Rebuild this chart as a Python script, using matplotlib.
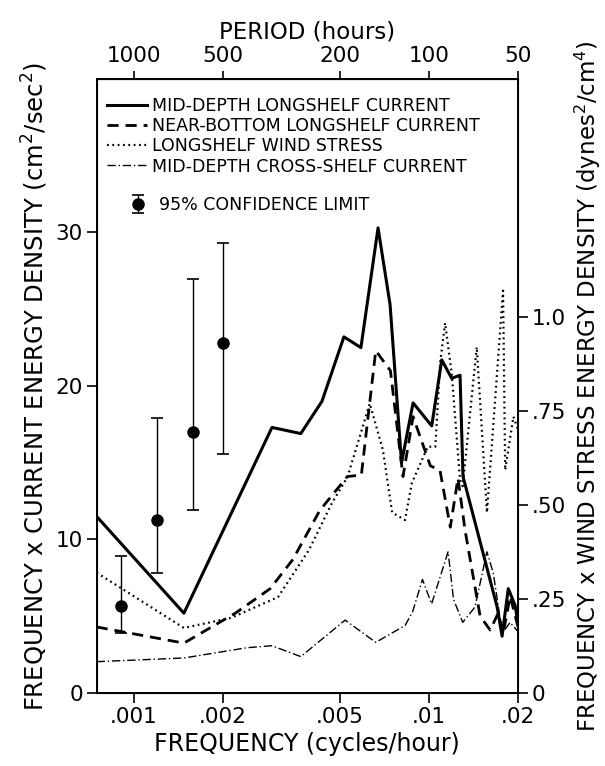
import matplotlib
matplotlib.use("Agg")
import matplotlib.pyplot as plt
from matplotlib.ticker import NullLocator, FixedLocator, FixedFormatter

# frequency (cycles/hour) and frequency x energy density for each record
F_MID = [0.00075, 0.00148, 0.00294, 0.00368, 0.00434, 0.00515, 0.00588, 0.00672,
         0.00738, 0.00807, 0.00883, 0.01021, 0.01104, 0.01193, 0.01273, 0.01303,
         0.01524, 0.0170, 0.01767, 0.01854, 0.01956, 0.0200]
E_MID = [11.5, 5.2, 17.3, 16.9, 19.0, 23.2, 22.5, 30.3,
         25.3, 15.0, 18.9, 17.4, 21.7, 20.5, 20.7, 14.1,
         9.1, 5.6, 3.7, 6.8, 5.7, 4.5]

F_BOT = [0.00075, 0.00148, 0.00221, 0.0029, 0.00346, 0.00427, 0.00529, 0.0059, 0.0066,
         0.0074, 0.00816, 0.00883, 0.0101, 0.01089, 0.0118, 0.01253, 0.01324,
         0.01489, 0.0161, 0.01714, 0.01782, 0.01882, 0.0200]
E_BOT = [4.3, 3.25, 5.2, 6.8, 8.7, 11.9, 14.1, 14.2, 22.3,
         21.0, 14.1, 18.0, 14.8, 14.5, 10.8, 14.0, 10.6,
         5.0, 4.1, 5.2, 3.9, 6.3, 4.3]

F_WIND = [0.00075, 0.00148, 0.00214, 0.00308, 0.00392, 0.00469, 0.0053, 0.0063,
          0.00698, 0.0075, 0.00829, 0.00874, 0.0099, 0.0105, 0.0109, 0.01133,
          0.01193, 0.01273, 0.0130, 0.0145, 0.0157, 0.0178, 0.0181, 0.0193, 0.0200]
E_WIND = [0.32, 0.173, 0.20, 0.255, 0.38, 0.505, 0.575, 0.77,
          0.646, 0.48, 0.46, 0.558, 0.655, 0.655, 0.877, 0.984,
          0.85, 0.567, 0.55, 0.92, 0.48, 1.07, 0.593, 0.735, 0.70]

F_CROSS = [0.00075, 0.00148, 0.00242, 0.00294, 0.00368, 0.0052, 0.0066, 0.0083,
           0.0088, 0.0095, 0.0102, 0.0116, 0.0121, 0.0130, 0.0143, 0.0157,
           0.0165, 0.0177, 0.0188, 0.0200]
E_CROSS = [2.04, 2.28, 2.95, 3.08, 2.37, 4.75, 3.3, 4.4,
           5.3, 7.4, 5.8, 9.2, 6.1, 4.6, 5.6, 9.2,
           7.8, 3.9, 4.6, 4.0]

# 95% confidence limits drawn at low frequency
F_CI = [0.00091, 0.0012, 0.00159, 0.0020]
E_CI = [5.7, 11.3, 17.0, 22.8]
CI_LO = [3.9, 7.8, 11.9, 15.6]
CI_HI = [8.9, 17.9, 27.0, 29.3]

PERIODS = [1000, 500, 200, 100, 50]
FREQ_TICKS = [0.001, 0.002, 0.005, 0.01, 0.02]
FREQ_LABELS = [".001", ".002", ".005", ".01", ".02"]
RIGHT_TICKS = [0, 0.25, 0.5, 0.75, 1.0]
RIGHT_LABELS = ["0", ".25", ".50", ".75", "1.0"]

plt.rcParams["font.family"] = "DejaVu Sans"
fig = plt.figure(figsize=(6.05, 7.66), dpi=100)
ax = fig.add_axes([0.1598, 0.0953, 0.6964, 0.8016])
ax2 = ax.twinx()

l1, = ax.plot(F_MID, E_MID, color="black", lw=2.2, ls="-")
l2, = ax.plot(F_BOT, E_BOT, color="black", lw=2.0, ls=(0, (4, 2.5)))
l4, = ax.plot(F_CROSS, E_CROSS, color="black", lw=1.0, ls=(0, (6, 2, 1, 2)))
l3, = ax2.plot(F_WIND, E_WIND, color="black", lw=1.6, ls=(0, (0.8, 1.6)))

yerr = [[e - lo for e, lo in zip(E_CI, CI_LO)], [hi - e for e, hi in zip(E_CI, CI_HI)]]
eb = ax.errorbar(F_CI, E_CI, yerr=yerr, fmt="o", color="black", ms=8,
                 elinewidth=1.0, capsize=4, capthick=1.2)

ax.set_xscale("log")
ax.set_xlim(0.00075, 0.02)
ax.set_ylim(0, 40)
ax2.set_ylim(0, 1.633)

ax.xaxis.set_major_locator(FixedLocator(FREQ_TICKS))
ax.xaxis.set_major_formatter(FixedFormatter(FREQ_LABELS))
ax.xaxis.set_minor_locator(NullLocator())
ax.set_yticks([0, 10, 20, 30])
ax2.set_yticks(RIGHT_TICKS)
ax2.set_yticklabels(RIGHT_LABELS)

top = ax.secondary_xaxis("top", functions=(lambda f: 1.0 / f, lambda p: 1.0 / p))
top.xaxis.set_major_locator(FixedLocator(PERIODS))
top.xaxis.set_major_formatter(FixedFormatter([str(p) for p in PERIODS]))
top.xaxis.set_minor_locator(NullLocator())
top.tick_params(direction="out", length=6, width=1.2, labelsize=15.5, pad=3)
top.set_xlabel("PERIOD (hours)", fontsize=16.5, labelpad=6)

for a in (ax, ax2):
    a.tick_params(direction="out", length=7, width=1.2, labelsize=15.5, pad=3)
for s in ax.spines.values():
    s.set_linewidth(1.4)

ax.set_xlabel("FREQUENCY (cycles/hour)", fontsize=17, labelpad=4)
ax.set_ylabel("FREQUENCY x CURRENT ENERGY DENSITY (cm$^2$/sec$^2$)",
              fontsize=17.5, labelpad=4)
ax2.set_ylabel("FREQUENCY x WIND STRESS ENERGY DENSITY (dynes$^2$/cm$^4$)",
               fontsize=16.5, labelpad=5)

leg = ax.legend([l1, l2, l3, l4],
                ["MID-DEPTH LONGSHELF CURRENT", "NEAR-BOTTOM LONGSHELF CURRENT",
                 "LONGSHELF WIND STRESS", "MID-DEPTH CROSS-SHELF CURRENT"],
                loc="upper left", bbox_to_anchor=(-0.005, 0.99), frameon=False,
                fontsize=12.5, handlelength=2.3, handletextpad=0.3,
                labelspacing=0.12, borderaxespad=0.3)
ax.add_artist(leg)
ax.legend([eb], ["95% CONFIDENCE LIMIT"], loc="upper left",
          bbox_to_anchor=(0.04, 0.835), frameon=False, fontsize=12.5,
          handlelength=1.0, handletextpad=0.7)

fig.savefig("out.png", dpi=100)
